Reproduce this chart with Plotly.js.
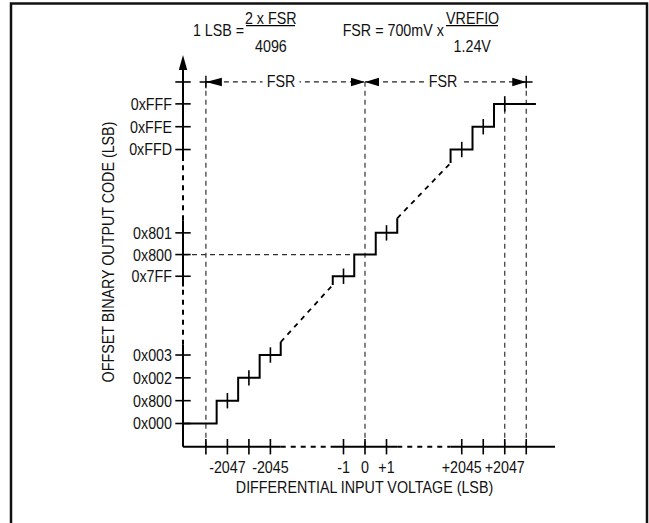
<!DOCTYPE html>
<html><head><meta charset="utf-8">
<script src="https://cdn.plot.ly/plotly-3.0.1.min.js"></script>
<style>html,body{margin:0;padding:0;background:#fff}#chart{width:649px;height:523px}</style>
</head><body><div id="chart"></div>
<script>
// ---- data (schematic units: x = LSB slots, y = code slots; both axes are broken) ----
const xTickVals = [-7.4, -6.4, -5.4, -4.4, -1, 0, 1, 4.5, 5.5, 6.5, 7.5];
const xTickText = ["", "-2047", "", "-2045", "-1", "0", "+1", "+2045", "", "+2047", ""];
const yTickVals = [0, 1, 2, 3, 6.45, 7.4, 8.35, 12, 13, 14, 14.96];
const yTickText = ["0x000", "0x800", "0x002", "0x003", "0x7FF", "0x800", "0x801", "0xFFD", "0xFFE", "0xFFF", ""];

const stairLowX = [-8.465, -6.9, -6.9, -5.9, -5.9, -4.9, -4.9, -3.92, -3.92];
const stairLowY = [0, 0, 1, 1, 2, 2, 3, 3, 3.57];
const rampLowX = [-3.92, -1.5];
const rampLowY = [3.57, 6.07];
const stairMidX = [-1.5, -1.5, -0.5, -0.5, 0.5, 0.5, 1.5, 1.5];
const stairMidY = [6.07, 6.45, 6.45, 7.4, 7.4, 8.35, 8.35, 8.99];
const rampHighX = [1.5, 3.98];
const rampHighY = [8.99, 11.41];
const stairHighX = [3.98, 3.98, 5, 5, 6, 6, 7.95];
const stairHighY = [11.41, 12, 12, 13, 13, 14, 14];

const codeCenterX = [-6.4, -5.4, -4.4, -1, 1, 4.5, 5.5, 6.5];
const codeCenterY = [1, 2, 3, 6.45, 8.35, 12, 13, 14];

const axisX0 = -8.465, axisY0 = -1.016, arrowTipY = 16.14;
const xAxisSolid = [[-8.465, -3.92], [-1.6, 1.5], [3.98, 8.84]];
const xAxisDashed = [[-3.92, -1.6], [1.5, 3.98]];
const yAxisSolid = [[-1.016, 3.45], [6.0, 8.9], [11.5, 15.6]];
const yAxisDashed = [[3.45, 6.0], [8.9, 11.5]];

const fsrY = 14.96;
const fsrEnds = [-7.4, 0, 7.5];
const fsrLabelX = [-3.9, 3.63];
const refVertX = [-7.4, 0, 6.5, 7.5];
const refVertTop = [14.96, 14.96, 14.2, 14.96];
const midCodeY = 7.4, midCodeEndX = -0.5;

// ---- helpers ----
const FONT = '"Liberation Sans Narrow", "Liberation Sans", Arial, sans-serif';
const CONDENSE = 0.84;   // the reference lettering is a condensed face
const INK = '#000';
function hsegs(segs, y) { const X = [], Y = []; segs.forEach(s => { X.push(s[0], s[1], null); Y.push(y, y, null); }); return [X, Y]; }
function vsegs(segs, x) { const X = [], Y = []; segs.forEach(s => { X.push(x, x, null); Y.push(s[0], s[1], null); }); return [X, Y]; }
function line(X, Y, w, dash, color) {
  return { x: X, y: Y, mode: 'lines', type: 'scatter', hoverinfo: 'skip', cliponaxis: false,
    line: { color: color || INK, width: w, dash: dash || 'solid' } };
}
function marks(X, Y, sym, size, w) {
  return { x: X, y: Y, mode: 'markers', type: 'scatter', hoverinfo: 'skip', cliponaxis: false,
    marker: { symbol: sym, size: size, color: INK, line: { color: INK, width: w } } };
}

const traces = [];
// reference dashed lines
const rvX = [], rvY = [];
refVertX.forEach((x, i) => { rvX.push(x, x, null); rvY.push(axisY0, refVertTop[i], null); });
traces.push(line(rvX, rvY, 1.2, '5px,4px', '#333'));
traces.push(line([axisX0, midCodeEndX], [midCodeY, midCodeY], 1.2, '5px,4px', '#333'));
// FSR dimension lines
traces.push(line([fsrEnds[0], fsrEnds[1], null, fsrEnds[1], fsrEnds[2]], [fsrY, fsrY, null, fsrY, fsrY], 1.3, '5px,4px', '#222'));
// axes
let a = hsegs(xAxisSolid, axisY0); traces.push(line(a[0], a[1], 2));
a = hsegs(xAxisDashed, axisY0); traces.push(line(a[0], a[1], 2, '5px,5px'));
a = vsegs(yAxisSolid, axisX0); traces.push(line(a[0], a[1], 2));
a = vsegs(yAxisDashed, axisX0); traces.push(line(a[0], a[1], 2, '5px,5px'));
// transfer function
traces.push(line(stairLowX, stairLowY, 2));
traces.push(line(rampLowX, rampLowY, 1.8, '5px,5px'));
traces.push(line(stairMidX, stairMidY, 2));
traces.push(line(rampHighX, rampHighY, 1.8, '5px,5px'));
traces.push(line(stairHighX, stairHighY, 2));
// tick marks crossing the axes
traces.push(marks(xTickVals, xTickVals.map(() => axisY0), 'line-ns', 11, 1.6));
traces.push(marks(yTickVals.map(() => axisX0), yTickVals, 'line-ew', 11, 1.6));
traces.push(marks(codeCenterX, codeCenterY, 'line-ns', 11, 1.6));
traces.push(marks([fsrEnds[0], fsrEnds[2]], [fsrY, fsrY], 'cross-thin', 9, 1.4));

// ---- layout ----
const L = 174, R = 555, T = 52, B = 452;
const px = v => (v - L) / (R - L);
const py = v => (B - v) / (B - T);

function arrow(xa, ya, path) {
  return { type: 'path', xref: 'x', yref: 'y', xsizemode: 'pixel', ysizemode: 'pixel',
    xanchor: xa, yanchor: ya, path: path, fillcolor: INK, line: { width: 0 }, layer: 'above' };
}
const shapes = [
  { type: 'rect', xref: 'paper', yref: 'paper', x0: px(11), x1: px(647), y0: py(3.5), y1: py(540),
    line: { color: '#111', width: 2.5 }, fillcolor: 'rgba(0,0,0,0)' },
  { type: 'line', xref: 'paper', yref: 'paper', x0: px(246), x1: px(295), y0: py(25.7), y1: py(25.7), line: { color: INK, width: 1.3 } },
  { type: 'line', xref: 'paper', yref: 'paper', x0: px(446), x1: px(498), y0: py(25.7), y1: py(25.7), line: { color: INK, width: 1.3 } },
  arrow(fsrEnds[0], fsrY, 'M0,0L16,4.2L16,-4.2Z'),
  arrow(fsrEnds[1], fsrY, 'M0,0L-14,4.2L-14,-4.2Z'),
  arrow(fsrEnds[1], fsrY, 'M0,0L14,4.2L14,-4.2Z'),
  arrow(fsrEnds[2], fsrY, 'M0,0L-14,4.2L-14,-4.2Z'),
  arrow(axisX0, arrowTipY, 'M0,0L-4.2,-15L4.2,-15Z')
];

const tf = { family: FONT, size: 17, color: '#111' };
function note(x, y, text) {
  return { xref: 'paper', yref: 'paper', x: px(x), y: py(y), text: text, showarrow: false,
    xanchor: 'center', yanchor: 'middle', font: tf };
}
const annotations = [
  note(218.5, 30, '1 LSB ='),
  note(270.5, 18.5, '2 x FSR'),
  note(271, 46.5, '4096'),
  note(393, 30, 'FSR = 700mV x'),
  note(472, 18.5, 'VREFIO'),
  note(472, 46.5, '1.24V')
];
fsrLabelX.forEach(x => annotations.push({ xref: 'x', yref: 'y', x: x, y: fsrY, text: 'FSR', showarrow: false,
  bgcolor: '#fff', borderpad: 1, font: tf }));

const layout = {
  width: 649, height: 523,
  margin: { l: L, r: 649 - R, t: T, b: 523 - B, pad: 0 },
  paper_bgcolor: '#fff', plot_bgcolor: '#fff', showlegend: false,
  font: tf,
  xaxis: { range: [(L - 365) / 21.5, (R - 365) / 21.5], showgrid: false, zeroline: false, showline: false,
    ticks: '', tickmode: 'array', tickvals: xTickVals, ticktext: xTickText, tickfont: tf, tickangle: 0,
    ticklabelstandoff: 3, automargin: false, fixedrange: true,
    title: { text: 'DIFFERENTIAL INPUT VOLTAGE (LSB)', font: tf, standoff: 5 } },
  yaxis: { range: [(423.5 - B) / 22.83, (423.5 - T) / 22.83], showgrid: false, zeroline: false, showline: false,
    ticks: '', tickmode: 'array', tickvals: yTickVals, ticktext: yTickText, tickfont: tf,
    ticklabelstandoff: 1, automargin: false, fixedrange: true,
    title: { text: 'OFFSET BINARY OUTPUT CODE (LSB)', font: tf, standoff: 2 } },
  shapes: shapes,
  annotations: annotations
};

Plotly.newPlot('chart', traces, layout, { staticPlot: true, displayModeBar: false }).then(gd => {
  gd.querySelectorAll('svg text').forEach(t => {
    const len = t.getComputedTextLength();
    if (len > 0) {
      t.setAttribute('textLength', (len * CONDENSE).toFixed(2));
      t.setAttribute('lengthAdjust', 'spacingAndGlyphs');
    }
  });
});
</script>
</body></html>
